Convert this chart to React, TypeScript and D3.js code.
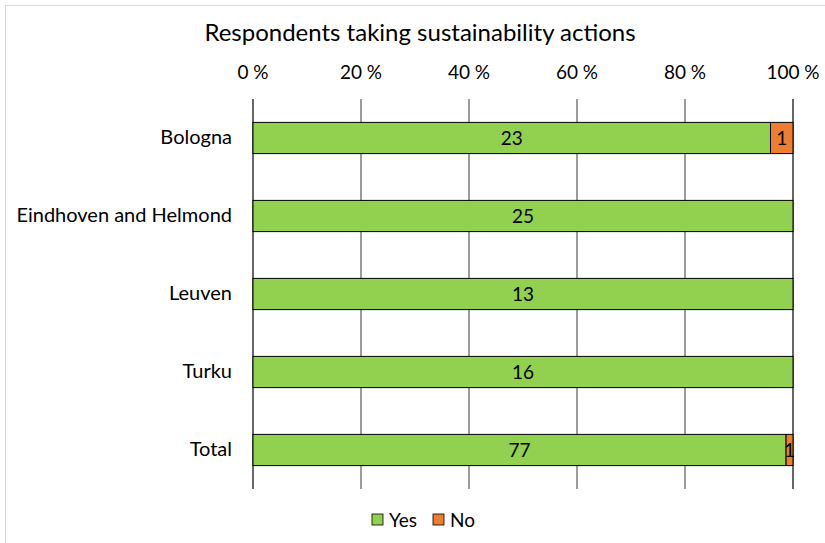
import React from "react";
import * as d3 from "d3";

const categories = ["Bologna", "Eindhoven and Helmond", "Leuven", "Turku", "Total"];
const yesValues = [23, 25, 13, 16, 77];
const noValues = [1, 0, 0, 0, 1];
const tickValues = [0, 0.2, 0.4, 0.6, 0.8, 1];
const seriesNames = ["Yes", "No"];
const seriesColors = ["#92d050", "#ed7d31"];
const title = "Respondents taking sustainability actions";

const W = 825;
const H = 543;
const FONT = "Lato, 'Open Sans', sans-serif";

export default function App() {
  const x = d3.scaleLinear().domain([0, 1]).range([253, 793]);
  const y = d3.scaleBand().domain(categories).range([99, 489]).paddingInner(0.6).paddingOuter(0.3);

  const rows = categories.map((c, i) => ({ c, yes: yesValues[i], no: noValues[i] }));
  const stack = d3.stack<any>().keys(["yes", "no"]).offset(d3.stackOffsetExpand);
  const series = stack(rows as any);

  return (
    <svg width={W} height={H} style={{ position: "absolute", left: 0, top: 0 }} fontFamily={FONT}>
      <rect x={0} y={0} width={W} height={H} fill="#fff" />
      <rect x={5.5} y={5.5} width={W + 10} height={H + 10} fill="none" stroke="#d9d9d9" strokeWidth={1} />
      <text x={420} y={41} textAnchor="middle" fontSize={24} fill="#000">{title}</text>
      {tickValues.map((t) => (
        <g key={t}>
          <line x1={x(t)} x2={x(t)} y1={99} y2={489} stroke={t === 0 || t === 1 ? "#000" : "#595959"} strokeWidth={1.2} />
          <text x={x(t)} y={79} textAnchor="middle" fontSize={19} fill="#000">{`${Math.round(t * 100)} %`}</text>
        </g>
      ))}
      {series.map((s, si) =>
        s.map((d, i) => {
          const w = x(d[1]) - x(d[0]);
          if (w <= 0) return null;
          const by = y(categories[i])!;
          const bh = y.bandwidth();
          const val = si === 0 ? yesValues[i] : noValues[i];
          return (
            <g key={`${si}-${i}`}>
              <rect x={x(d[0])} y={by} width={w} height={bh} fill={seriesColors[si]} stroke="#000" strokeWidth={1} />
              <text x={x(d[0]) + w / 2} y={by + bh / 2 + 7} textAnchor="middle" fontSize={19} fill="#000">{val}</text>
            </g>
          );
        })
      )}
      {categories.map((c) => (
        <text key={c} x={232} y={y(c)! + y.bandwidth() / 2 + 6} textAnchor="end" fontSize={20} fill="#000">{c}</text>
      ))}
      <g>
        {seriesNames.map((n, i) => {
          const lx = i === 0 ? 372 : 433;
          return (
            <g key={n}>
              <rect x={lx} y={514} width={11} height={11} fill={seriesColors[i]} stroke="#000" strokeWidth={0.8} />
              <text x={lx + 17} y={527} fontSize={19} fill="#000">{n}</text>
            </g>
          );
        })}
      </g>
    </svg>
  );
}
